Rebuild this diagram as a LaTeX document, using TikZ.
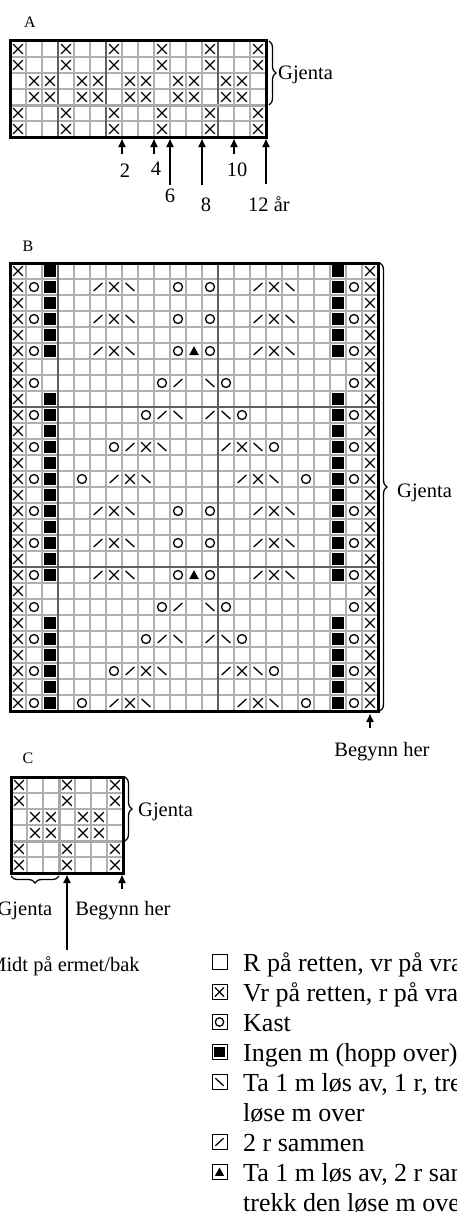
\documentclass[tikz,border=0pt]{standalone}
\usepackage{fontspec}
\setmainfont{Liberation Serif}
\usetikzlibrary{arrows.meta}
\usetikzlibrary{decorations.pathreplacing}
\definecolor{cellgray}{RGB}{175,175,175}
\definecolor{tengray} {RGB}{95,95,95}
\definecolor{repgray} {RGB}{168,168,168}
\tikzset{
    gridline/.style={draw=cellgray, line width=1.1pt},
    tenline/.style={draw=tengray, line width=1.2pt},
    repline/.style={draw=repgray, line width=3pt},
    chartframe/.style={draw=black, line width=3pt},
    symline/.style={draw=black, line width=1.3pt},
    gjbrace/.style={decorate, decoration={brace, amplitude=7pt}, line width=1.3pt},
    agearrow/.style={line width=1.8pt, -{Triangle[length=8pt,width=7pt]}},
    chartname/.style={font=\fontsize{16}{19}\selectfont, inner sep=1pt, anchor=base},
    chtxt/.style={font=\fontsize{20.5}{24}\selectfont, inner sep=1pt, anchor=base},
    legtxt/.style={font=\fontsize{26}{30}\selectfont, inner sep=0pt, anchor=base west, align=left},
    legbox/.style={draw=black, line width=0.9pt, minimum size=15pt, inner sep=0pt},
    % chart symbols, one cell wide
    pics/kx/.style={code={\draw[symline] (-0.3,-0.3) -- (0.3,0.3) (-0.3,0.3) -- (0.3,-0.3);}},
    pics/ko/.style={code={\draw[symline] (0,0) circle[radius=0.28];}},
    pics/kblk/.style={code={\fill (-0.35,-0.35) rectangle (0.35,0.35);}},
    pics/kup/.style={code={\draw[symline] (-0.27,0.25) -- (0.27,-0.25);}},
    pics/kdown/.style={code={\draw[symline] (-0.27,-0.25) -- (0.27,0.25);}},
    pics/ktri/.style={code={\fill (0,-0.3) -- (0.3,0.25) -- (-0.3,0.25) -- cycle;}}
}
\begin{document}
\begin{tikzpicture}[x=1pt, y=-1pt]
\useasboundingbox (0,0) rectangle (457,1223);

%% Chart A
\node[chartname] (nameA) at (30,28) {A};
\begin{scope}[shift={(10,41)}, x=16pt, y=-16pt]
    \foreach \i in {1,...,15} \draw[gridline] (\i,0) -- (\i,6);
    \foreach \j in {1,...,5} \draw[gridline] (0,\j) -- (16,\j);
    \foreach \i in {3,6,13} \draw[tenline] (\i,0) -- (\i,6);
    \draw[repline] (0,4) -- (16,4);
    \foreach \r in {1,2,5,6} \foreach \c in {1,4,...,16} \pic at (\c-0.5,\r-0.5) {kx};
    \foreach \r in {3,4} \foreach \c in {2,3,5,6,8,9,11,12,14,15} \pic at (\c-0.5,\r-0.5) {kx};
    \draw[chartframe] (0,0) rectangle (16,6);
\end{scope}
 % repeat
\draw[gjbrace] (269,41) -- (269,105);
\node[chtxt, anchor=base west] (gjA) at (277,80) {Gjenta};
 % sizes
\coordinate (a2)  at (122,139);
\coordinate (a4)  at (154,139);
\coordinate (a6)  at (170,139);
\coordinate (a8)  at (202,139);
\coordinate (a10) at (234,139);
\coordinate (a12) at (266,139);
\node[chtxt] (l2)  at (125,177) {2};
\node[chtxt] (l4)  at (156,175) {4};
\node[chtxt] (l10) at (237,176) {10};
\node[chtxt] (l6)  at (170,202) {6};
\node[chtxt] (l8)  at (206,211) {8};
\node[chtxt, anchor=base west] (l12) at (247,211) {12 år};
\draw[agearrow, shorten <=8pt]  (a2 |- l2.north) -- (a2);
\draw[agearrow, shorten <=6pt]  (a4 |- l4.north) -- (a4);
\draw[agearrow, shorten <=7pt]  (a10 |- l10.north) -- (a10);
\draw[agearrow, shorten <=2pt]  (a6 |- l6.north) -- (a6);
\draw[agearrow, shorten <=11pt] (a8 |- l8.north) -- (a8);
\draw[agearrow, shorten <=11pt] (a12 |- l12.north) -- (a12);

%% Chart B
\node[chartname] (nameB) at (28,251) {B};
\begin{scope}[shift={(10,263)}, x=16pt, y=-16pt]
    \foreach \i in {1,...,22} \draw[gridline] (\i,0) -- (\i,28);
    \foreach \j in {1,...,27} \draw[gridline] (0,\j) -- (23,\j);
    \foreach \i in {3,13} \draw[tenline] (\i,0) -- (\i,28);
    \foreach \j in {9,19} \draw[tenline] (0,\j) -- (23,\j);
    % edge stitches
    \foreach \r in {1,...,28} {\pic at (0.5,\r-0.5) {kx}; \pic at (22.5,\r-0.5) {kx};}
    \foreach \r in {2,4,...,28} {\pic at (1.5,\r-0.5) {ko}; \pic at (21.5,\r-0.5) {ko};}
    \foreach \r in {1,...,6,9,10,...,20,23,24,...,28} {\pic at (2.5,\r-0.5) {kblk}; \pic at (20.5,\r-0.5) {kblk};}
    % lace, two repeats
    \foreach \off in {0,14} {
        \foreach \c/\r in {7/2,17/2,7/4,17/4,7/6,17/6,9/12,15/12,8/14,16/14}
            \pic at (\c-0.5,\r+\off-0.5) {kx};
        \foreach \c/\r in {6/2,16/2,6/4,16/4,6/6,16/6,11/8,10/10,13/10,8/12,14/12,7/14,15/14}
            \pic at (\c-0.5,\r+\off-0.5) {kup};
        \foreach \c/\r in {8/2,18/2,8/4,18/4,8/6,18/6,13/8,11/10,14/10,10/12,16/12,9/14,17/14}
            \pic at (\c-0.5,\r+\off-0.5) {kdown};
        \foreach \c/\r in {11/2,13/2,11/4,13/4,11/6,13/6,10/8,14/8,9/10,15/10,7/12,17/12,5/14,19/14}
            \pic at (\c-0.5,\r+\off-0.5) {ko};
        \pic at (11.5,5.5+\off) {ktri};
    }
    \draw[chartframe] (0,0) rectangle (23,28);
\end{scope}
\draw[gjbrace] (380,263) -- (380,711);
\node[chtxt, anchor=base west] (gjB) at (396,497) {Gjenta};
\coordinate (startB) at (370,714);
\node[chtxt] (beginB) at (382,756) {Begynn her};
\draw[agearrow, shorten <=13pt] (startB |- beginB.north) -- (startB);

%% Chart C
\node[chartname] (nameC) at (28,763) {C};
\begin{scope}[shift={(11,777)}, x=16pt, y=-16pt]
    \foreach \i in {1,...,6} \draw[gridline] (\i,0) -- (\i,6);
    \foreach \j in {1,...,5} \draw[gridline] (0,\j) -- (7,\j);
    \draw[repline] (0,4) -- (7,4);
    \draw[repline] (3,0) -- (3,6);
    \foreach \r in {1,2,5,6} \foreach \c in {1,4,7} \pic at (\c-0.5,\r-0.5) {kx};
    \foreach \r in {3,4} \foreach \c in {2,3,5,6} \pic at (\c-0.5,\r-0.5) {kx};
    \draw[chartframe] (0,0) rectangle (7,6);
\end{scope}
\draw[gjbrace] (125,777) -- (125,841);
\node[chtxt, anchor=base west] (gjC) at (137,816) {Gjenta};
\draw[gjbrace] (59,876) -- (11,876);
\node[chtxt] (gjCw) at (25,915) {Gjenta};
\coordinate (startC) at (122,875);
\node[chtxt] (beginC) at (123,915) {Begynn her};
\draw[agearrow, shorten <=11pt] (startC |- beginC.north) -- (startC);
\coordinate (midC) at (67,875);
\node[chtxt] (midt) at (64,971) {Midt på ermet/bak};
\draw[agearrow, shorten <=5pt] (midC |- midt.north) -- (midC);

%% Legend
\foreach \n/\y in {1/962,2/992,3/1022,4/1052,5/1082,6/1142,7/1172}
    \node[legbox] (k\n) at (219.5,\y) {};
\pic[scale=15] at (k2) {kx};
\pic[scale=15] at (k3) {ko};
\pic[scale=15] at (k4) {kblk};
\pic[scale=15] at (k5) {kdown};
\pic[scale=15] at (k6) {kup};
\pic[scale=15] at (k7) {ktri};
\node[legtxt] (t1) at (243,971)  {R på retten, vr på vrangen};
\node[legtxt] (t2) at (243,1001) {Vr på retten, r på vrangen};
\node[legtxt] (t3) at (243,1031) {Kast};
\node[legtxt] (t4) at (243,1061) {Ingen m (hopp over)};
\node[legtxt] (t5) at (243,1121) {Ta 1 m løs av, 1 r, trekk den\\løse m over};
\node[legtxt] (t6) at (243,1151) {2 r sammen};
\node[legtxt] (t7) at (243,1211) {Ta 1 m løs av, 2 r sammen,\\trekk den løse m over};
\end{tikzpicture}
\end{document}
